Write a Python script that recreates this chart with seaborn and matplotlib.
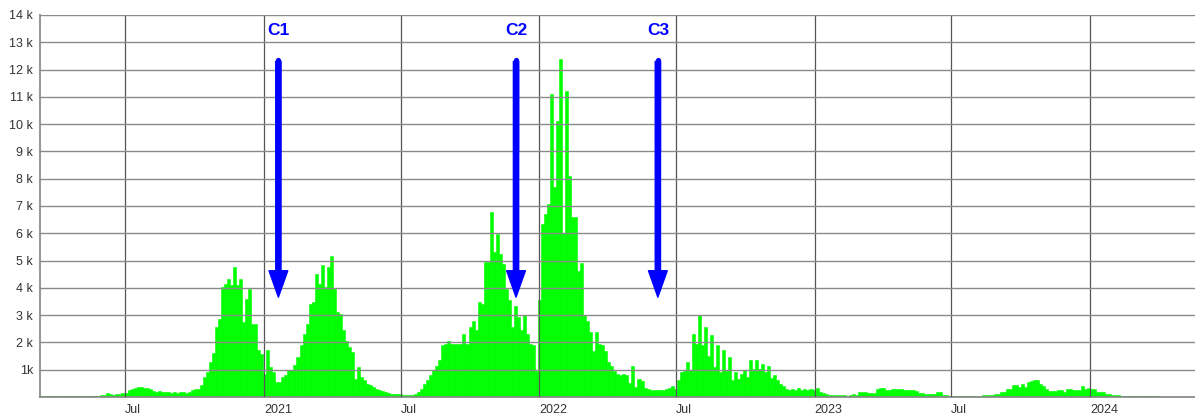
import matplotlib
matplotlib.use("Agg")
import matplotlib.pyplot as plt
import matplotlib.dates as mdates
import numpy as np
import pandas as pd
import seaborn as sns

# one value per 4-day bin, starting 2020-03-10
start_date = "2020-03-10"
bin_days = 4

first_months = [30, 40, 45, 50, 45, 40, 45, 50, 45, 40, 40, 45, 40, 35, 40, 35, 40, 40, 35, 40,
                70, 60, 150, 100, 90, 110, 120, 130, 150,
                250, 300, 330, 360, 380, 320, 340,
                280, 230, 200, 220, 190, 200, 180]

winter_2020 = [160, 170, 150, 180, 170, 160, 180, 250, 280, 300,
               430, 730, 900, 1280, 1600, 2560, 2870, 4020, 4150, 4330,
               4090, 4760, 4090, 4330, 2740, 3600, 3960, 2680, 2680, 1710,
               1590, 850, 1710, 1100, 910, 550, 550, 730, 790, 980,
               980, 1160, 1460, 1890, 2320, 2680, 3410, 3480, 4510, 4150,
               4820, 4020, 4760, 5180, 3960, 3110, 3050, 2440, 2070, 1830,
               1650, 670, 1100, 730, 610, 490, 430, 370, 300, 240,
               210, 180, 150, 120, 120, 110, 100]

autumn_2021 = [80, 70, 70, 80, 100, 180, 300, 490, 610, 790,
               980, 1150, 1340, 1890, 1950, 2070, 1930, 1930, 1950, 1930,
               2320, 1950, 2560, 2800, 2440, 3480, 3410, 4940, 4940, 6770,
               5300, 5980, 5240, 4880, 3960, 3540, 2560, 3350, 2930, 2440,
               2990, 2320, 1950, 1890, 950, 3560]

omicron_2022 = [6340, 6710, 7070, 11100, 7700, 10100, 12400, 6000, 11200, 8100,
                6600, 6600, 4600, 4900, 3000, 2800, 2400, 1700, 2400, 1950,
                1900, 1700, 1300, 1150, 970, 850, 800, 850, 800, 500,
                1150, 370, 670, 600]

summer_2022 = [340, 300, 240, 240, 270, 240, 260, 300, 340, 390,
               300, 610, 910, 950, 1280, 980, 2320, 1950, 2990, 1890,
               2560, 1520, 2260, 1100, 1890, 910, 1710, 980, 1460, 610,
               910, 670, 850, 980, 730, 1340, 1040, 1370, 1040, 1220,
               910, 1120, 710, 790, 610, 490, 390, 300, 240, 300,
               240, 340, 270, 300, 240, 300, 270, 340, 180, 150,
               100, 90]

late_period = [80, 60, 60, 60, 60, 50, 60, 120, 60, 180,
               170, 180, 150, 150, 140, 300, 340, 340, 240, 250,
               300, 300, 280, 300, 270, 270, 240, 240, 220, 150,
               150, 100, 100, 120, 120, 170, 170, 70, 70, 40,
               40, 45, 40, 40, 35, 40, 40, 45, 40, 40,
               60, 55, 60, 60, 120, 120, 180, 180, 300, 300,
               430, 430, 370, 490, 370, 550, 570, 610, 610, 490,
               390, 300, 210, 210, 210, 240, 240, 180, 290, 290,
               240, 240, 240, 390, 300, 340, 300, 300, 180, 180,
               180, 100, 100, 60, 60, 60, 25, 25, 25, 25,
               25, 25, 25, 25, 25, 25, 25, 25, 25, 15,
               15, 15, 15, 15, 15, 15, 15, 15, 15, 15,
               15]

tick_dates = ["2020-07-01", "2021-01-01", "2021-07-01", "2022-01-01",
              "2022-07-01", "2023-01-01", "2023-07-01", "2024-01-01"]
tick_labels = ["Jul", "2021", "Jul", "2022", "Jul", "2023", "Jul", "2024"]

ytick_values = [1000, 2000, 3000, 4000, 5000, 6000, 7000,
                8000, 9000, 10000, 11000, 12000, 13000, 14000]
ytick_labels = ["1k", "2 k", "3 k", "4 k", "5 k", "6 k", "7 k",
                "8 k", "9 k", "10 k", "11 k", "12 k", "13 k", "14 k"]

marker_labels = ["C1", "C2", "C3"]
marker_dates = ["2021-01-20", "2021-12-01", "2022-06-07"]

values = first_months + winter_2020 + autumn_2021 + omicron_2022 + summer_2022 + late_period
edges = pd.date_range(start_date, periods=len(values) + 1, freq=f"{bin_days}D")
edge_num = mdates.date2num(edges)
df = pd.DataFrame({"day": edge_num[:-1] + bin_days / 2, "count": values})

sns.set_theme(style="white")
plt.rcParams["font.family"] = ["Liberation Sans", "DejaVu Sans"]

fig = plt.figure(figsize=(11.95, 4.17), dpi=100)
ax = fig.add_axes([40 / 1195, 20 / 417, 1155 / 1195, 382 / 417])

sns.histplot(data=df, x="day", weights="count", binwidth=bin_days,
             binrange=(float(edge_num[0]), float(edge_num[-1])), color="#00ff00",
             alpha=1, edgecolor="#00ff00", linewidth=0.4, ax=ax)

ax.set_xlim(mdates.date2num(pd.Timestamp("2020-03-10")), mdates.date2num(pd.Timestamp("2024-05-19")))
ax.set_ylim(0, 14000)
ax.set_xticks(mdates.date2num(pd.to_datetime(tick_dates)), labels=tick_labels)
ax.set_yticks(ytick_values, labels=ytick_labels)
for lbl in ax.get_xticklabels():
    lbl.set_horizontalalignment("left")
ax.tick_params(axis="both", length=0, labelsize=9, labelcolor="#333333")
ax.tick_params(axis="y", pad=5)
ax.tick_params(axis="x", pad=5)
ax.set_xlabel("")
ax.set_ylabel("")

ax.set_axisbelow(False)
ax.grid(axis="y", color="#8a8a8a", linewidth=1.0)
ax.grid(axis="x", color="#555555", linewidth=0.9)

sns.despine(ax=ax, top=True, right=True)
ax.spines["left"].set_color("#999999")
ax.spines["left"].set_linewidth(1.5)
ax.spines["bottom"].set_color("#888888")

for lab, d in zip(marker_labels, marker_dates):
    xd = mdates.date2num(pd.Timestamp(d))
    ax.annotate("", xy=(xd, 3660), xytext=(xd, 12300),
                arrowprops=dict(arrowstyle="simple,head_width=1.35,head_length=1.9,tail_width=0.38",
                                mutation_scale=10, color="#0000ff", shrinkA=0, shrinkB=0))
    # rounded top of the shaft
    ax.plot([xd, xd], [12350, 9000], color="#0000ff", lw=3.8, solid_capstyle="round", zorder=3)
    ax.text(xd, 13430, lab, color="#0000ff", fontsize=12.5, fontweight="bold",
            ha="center", va="center")

fig.savefig("out.png", dpi=100)
